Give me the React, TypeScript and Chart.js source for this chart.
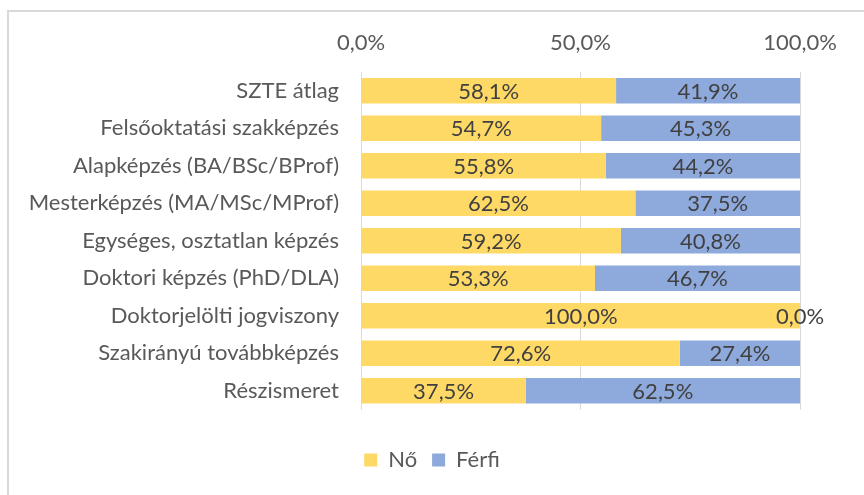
import React, { useEffect, useRef } from "react";
import { Chart, registerables } from "chart.js";

Chart.register(...registerables);

const categories = [
  "SZTE átlag",
  "Felsőoktatási szakképzés",
  "Alapképzés (BA/BSc/BProf)",
  "Mesterképzés (MA/MSc/MProf)",
  "Egységes, osztatlan képzés",
  "Doktori képzés (PhD/DLA)",
  "Doktorjelölti jogviszony",
  "Szakirányú továbbképzés",
  "Részismeret",
];
const noValues = [58.1, 54.7, 55.8, 62.5, 59.2, 53.3, 100.0, 72.6, 37.5];
const ferfiValues = [41.9, 45.3, 44.2, 37.5, 40.8, 46.7, 0.0, 27.4, 62.5];
const seriesNames = ["Nő", "Férfi"];
const xTicks = [0, 50, 100];

const FONT = "Lato, 'Noto Sans', sans-serif";
const FS = 22;
const fmt = (v: number) => v.toFixed(1).replace(".", ",") + "%";

const labelPlugin = {
  id: "barLabels",
  afterDatasetsDraw(chart: any) {
    const ctx = chart.ctx;
    ctx.save();
    ctx.font = `${FS}px ${FONT}`;
    ctx.fillStyle = "#404040";
    ctx.textAlign = "center";
    ctx.textBaseline = "middle";
    chart.data.datasets.forEach((ds: any, i: number) => {
      const meta = chart.getDatasetMeta(i);
      meta.data.forEach((el: any, j: number) => {
        const v = ds.data[j];
        const cx = (el.x + el.base) / 2;
        ctx.fillText(fmt(v), cx, el.y + 1);
      });
    });
    ctx.restore();
  },
};

export default function App() {
  const ref = useRef<HTMLCanvasElement>(null);
  useEffect(() => {
    if (!ref.current) return;
    const chart = new Chart(ref.current, {
      type: "bar",
      data: {
        labels: categories,
        datasets: [
          { label: seriesNames[0], data: noValues, backgroundColor: "#FFD966" },
          { label: seriesNames[1], data: ferfiValues, backgroundColor: "#8EA9DB" },
        ],
      },
      options: {
        indexAxis: "y",
        animation: false,
        responsive: false,
        maintainAspectRatio: false,
        layout: { padding: { left: 0, right: 0, top: 0, bottom: 14 } },
        datasets: { bar: { categoryPercentage: 0.68, barPercentage: 1 } },
        scales: {
          x: {
            position: "top",
            stacked: true,
            min: 0,
            max: 100,
            afterFit: (s: any) => { s.height = 72; },
            afterBuildTicks: (s: any) => { s.ticks = xTicks.map((v) => ({ value: v })); },
            ticks: {
              callback: (v: any) => fmt(Number(v)),
              font: { family: FONT, size: FS },
              color: "#595959",
              padding: 16,
              maxRotation: 0,
            },
            grid: { color: "#D9D9D9", lineWidth: 1, drawTicks: false },
            border: { display: false },
          },
          y: {
            stacked: true,
            afterFit: (s: any) => { s.width = 361; },
            ticks: {
              font: { family: FONT, size: FS },
              color: "#595959",
              padding: 14,
              autoSkip: false,
            },
            grid: { display: false },
            border: { display: false },
          },
          yRight: {
            type: "linear",
            position: "right",
            min: 0,
            max: 1,
            afterFit: (s: any) => { s.width = 64; },
            ticks: { display: false },
            grid: { display: false },
            border: { display: false },
          },
        },
        plugins: {
          legend: {
            position: "bottom",
            title: { display: true, text: "", padding: { top: 10, bottom: 0 } },
            labels: {
              boxWidth: 13,
              boxHeight: 13,
              padding: 15,
              color: "#595959",
              font: { family: FONT, size: FS },
            },
          },
          tooltip: { enabled: false },
        },
      },
      plugins: [labelPlugin],
    });
    return () => chart.destroy();
  }, []);

  return (
    <div style={{ position: "fixed", left: 0, top: 0, width: 864, height: 495, background: "#fff", overflow: "hidden" }}>
      <div
        style={{
          position: "absolute",
          left: 7,
          top: 10,
          width: 1000,
          height: 1000,
          border: "2px solid #D9D9D9",
          boxSizing: "border-box",
        }}
      />
      <canvas ref={ref} width={864} height={495} style={{ position: "absolute", left: 0, top: 0 }} />
    </div>
  );
}
